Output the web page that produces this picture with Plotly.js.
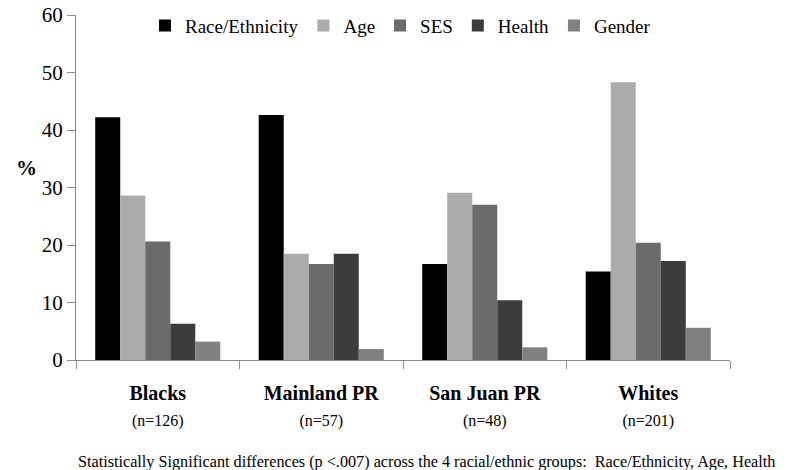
<!DOCTYPE html>
<html>
<head>
<meta charset="utf-8">
<script src="https://cdn.plot.ly/plotly-3.0.1.min.js"></script>
<style>html,body{margin:0;padding:0;background:#fff;}#chart{width:800px;height:470px;}</style>
</head>
<body>
<div id="chart"></div>
<script>
const groups = ["Blacks", "Mainland PR", "San Juan PR", "Whites"];
const groupN = ["(n=126)", "(n=57)", "(n=48)", "(n=201)"];
const seriesNames = ["Race/Ethnicity", "Age", "SES", "Health", "Gender"];
const raceEthnicity = [42.2, 42.6, 16.7, 15.4];
const age = [28.6, 18.5, 29.1, 48.3];
const ses = [20.6, 16.7, 27.0, 20.4];
const health = [6.3, 18.5, 10.4, 17.2];
const gender = [3.2, 1.9, 2.2, 5.6];
const yTicks = [0, 10, 20, 30, 40, 50, 60];
const footnote = "Statistically Significant differences (p <.007) across the 4 racial/ethnic groups:  Race/Ethnicity, Age, Health";

const colors = ["#000000", "#ababab", "#6b6b6b", "#3c3c3c", "#818181"];
const values = [raceEthnicity, age, ses, health, gender];
const font = "Liberation Serif";

const traces = seriesNames.map((name, i) => ({
  type: "bar",
  name: name,
  x: groups,
  y: values[i],
  marker: {color: colors[i], line: {width: 0}},
  hoverinfo: "none"
}));

const px = v => (v - 76) / 654;
const py = v => (360 - v) / 353;

const layout = {
  width: 800, height: 470,
  margin: {l: 76, r: 70, t: 7, b: 110},
  paper_bgcolor: "#fff", plot_bgcolor: "#fff",
  barmode: "group",
  bargap: 0.235,
  bargroupgap: 0,
  font: {family: font, color: "#000"},
  title: {
    text: footnote,
    font: {family: font, size: 16.2, color: "#000"},
    xref: "container", yref: "container",
    x: 78 / 800, xanchor: "left",
    y: (470 - 461) / 470, yanchor: "middle"
  },
  showlegend: true,
  legend: {
    orientation: "h", x: px(145), y: py(18), xanchor: "left", yanchor: "middle",
    font: {family: font, size: 19, color: "#000"},
    bgcolor: "rgba(0,0,0,0)", itemwidth: 30, traceorder: "normal"
  },
  xaxis: {
    type: "category",
    tickvals: groups,
    ticktext: groups.map((g, i) => "<b>" + g + "</b><br><span style='font-size:16px'>" + groupN[i] + "</span>"),
    tickfont: {family: font, size: 20, color: "#000"},
    ticklabelstandoff: 15,
    showline: true, linecolor: "#8c8c8c", linewidth: 1,
    ticks: "outside", tickson: "boundaries", ticklen: 8, tickcolor: "#8c8c8c",
    showgrid: false, zeroline: false, fixedrange: true
  },
  yaxis: {
    range: [0, 60],
    tickvals: yTicks,
    tickfont: {family: font, size: 21, color: "#000"},
    showline: true, linecolor: "#8c8c8c", linewidth: 1,
    ticks: "outside", ticklen: 8, tickcolor: "#8c8c8c",
    showgrid: false, zeroline: false, fixedrange: true
  },
  annotations: [{
    x: px(14), xref: "paper", y: py(164), yref: "paper",
    text: "<b>%</b>", showarrow: false,
    font: {family: font, size: 21}
  }]
};

Plotly.newPlot("chart", traces, layout, {displayModeBar: false, staticPlot: true});
</script>
</body>
</html>
